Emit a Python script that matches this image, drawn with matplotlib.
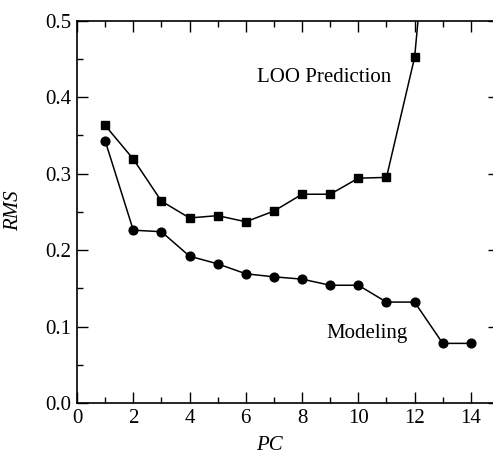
import matplotlib.pyplot as plt
import numpy as np

plt.rcParams['font.family'] = ['Liberation Serif', 'DejaVu Serif']

pc = np.arange(1, 15)
loo_pc = np.arange(1, 14)
loo = [0.363, 0.319, 0.264, 0.242, 0.245, 0.237, 0.251, 0.273, 0.273, 0.294, 0.295, 0.452, 0.85]
modeling = [0.343, 0.226, 0.224, 0.192, 0.182, 0.169, 0.165, 0.162, 0.154, 0.154, 0.132, 0.132, 0.078, 0.078]

fig = plt.figure(figsize=(4.93, 4.58), dpi=100)
ax = fig.add_axes([0.1562, 0.120, 0.856, 0.835])

ax.plot(loo_pc, loo, 'k-', marker='s', ms=6, lw=1.1)
ax.plot(pc, modeling, 'k-', marker='o', ms=6.3, lw=1.1)

ax.set_xlim(0, 15)
ax.set_ylim(0, 0.5)
ax.set_xticks(np.arange(0, 16, 2))
ax.set_xticks(np.arange(1, 16, 2), minor=True)
ax.set_yticks(np.arange(0, 0.51, 0.1))
ax.set_yticks(np.arange(0.05, 0.5, 0.1), minor=True)
ax.set_yticklabels(["0.0", "0.1", "0.2", "0.3", "0.4", "0.5"])
ax.tick_params(which='both', direction='in', top=True, right=True, labelsize=15, width=1)
ax.tick_params(which='major', length=8, pad=4)
ax.tick_params(which='minor', length=4)
for s in ax.spines.values():
    s.set_linewidth(1.2)

ax.set_xlabel("PC", fontsize=15, style='italic')
ax.set_ylabel("RMS", fontsize=15, style='italic')
ax.xaxis.set_label_coords(0.457, -0.085)
ax.yaxis.set_label_coords(-0.128, 0.502)

ax.text(6.38, 0.425, "LOO Prediction", fontsize=15, va='center', ha='left')
ax.text(8.85, 0.091, "Modeling", fontsize=15, va='center', ha='left')

fig.savefig("out.png", dpi=100)
